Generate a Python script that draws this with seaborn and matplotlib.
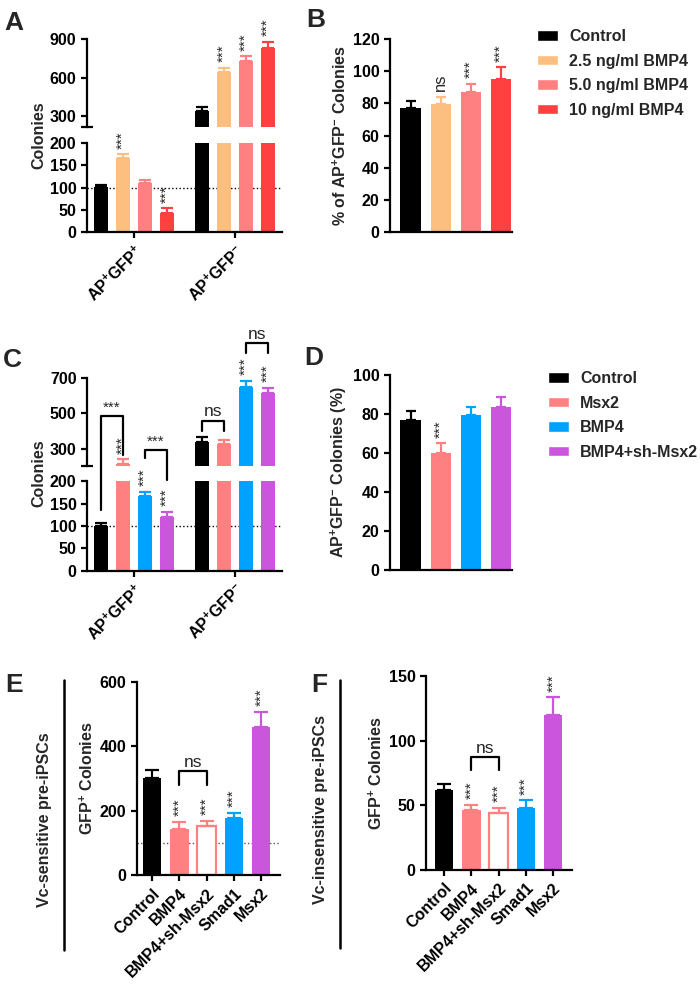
import numpy as np
import pandas as pd
import matplotlib
matplotlib.use("Agg")
import matplotlib.pyplot as plt
from matplotlib.lines import Line2D
from matplotlib.patches import Patch
import seaborn as sns

# === Data ===
black, orange, pink, red = "#000000", "#FDBF7F", "#FF8080", "#FF4040"
blue, purple = "#00A2FF", "#CC55DD"

ab_groups = ["AP$^{+}$GFP$^{+}$", "AP$^{+}$GFP$^{-}$"]

a_treat = ["Control", "2.5 ng/ml BMP4", "5.0 ng/ml BMP4", "10 ng/ml BMP4"]
a_colors = [black, orange, pink, red]
a_pos = [101, 167, 109, 43]
a_pos_err = [5, 8, 7, 10]
a_neg = [338, 644, 730, 832]
a_neg_err = [30, 30, 37, 47]
a_marks = ["", "***", "", "***", "", "***", "***", "***"]

b_vals = [77, 79.5, 87, 95]
b_err = [4.5, 4.5, 5, 7.5]
b_marks = ["", "ns", "***", "***"]

c_treat = ["Control", "Msx2", "BMP4", "BMP4+sh-Msx2"]
c_colors = [black, pink, blue, purple]
c_pos = [101, 215, 167, 120]
c_pos_err = [6, 26, 9, 12]
c_neg = [341, 326, 645, 615]
c_neg_err = [28, 24, 38, 28]
c_marks = ["", "***", "***", "***", "", "", "***", "***"]
# bar i, bar j, leg i bottom, leg j bottom, top, text
c_brackets = [(0, 1, 136, 266, 485, "***"),
              (2, 3, 250, 203, 295, "***"),
              (4, 5, 402, 402, 458, "ns"),
              (6, 7, 836, 836, 892, "ns")]

d_vals = [77, 60, 79.5, 83.5]
d_err = [4.5, 5, 4, 5]
d_marks = ["", "***", "", ""]

ef_labels = ["Control", "BMP4", "BMP4+sh-Msx2", "Smad1", "Msx2"]
ef_colors = [black, pink, pink, blue, purple]
e_vals = [301, 144, 153, 177, 460]
e_err = [25, 22, 16, 17, 47]
f_vals = [61.5, 46.5, 44, 48, 120]
f_err = [5, 4, 4, 6, 13.5]
ef_marks = ["", "***", "***", "***", "***"]
e_bracket = (1, 2, 280, 323, "ns")
f_bracket = (1, 2, 77, 87, "ns")

# === Style ===
FS = 11.5
sns.set_style("ticks")
plt.rcParams["font.family"] = ["Liberation Sans", "DejaVu Sans"]
plt.rcParams.update({
    "font.weight": "bold", "axes.labelweight": "bold", "font.size": FS,
    "axes.labelsize": FS, "xtick.labelsize": FS, "ytick.labelsize": FS,
    "axes.linewidth": 1.6, "xtick.major.width": 1.6, "ytick.major.width": 1.6,
    "xtick.major.size": 4, "ytick.major.size": 4,
    "xtick.color": "black", "ytick.color": "black", "axes.edgecolor": "black",
    "mathtext.fontset": "custom", "mathtext.rm": "Liberation Sans:bold",
    "mathtext.default": "rm",
})

W, H = 700, 984
fig = plt.figure(figsize=(W / 100, H / 100), dpi=100)


def box(l, t, r, b):
    return [l / W, 1 - b / H, (r - l) / W, (b - t) / H]


def to_fig(ax, x, y):
    return fig.transFigure.inverted().transform(ax.transData.transform((x, y)))


def star(ax, x, y, text, fs=11):
    ax.annotate(text, (x, y), xytext=(0, 4), textcoords="offset points",
                rotation=90, ha="center", va="bottom", fontsize=fs,
                fontweight="normal", annotation_clip=False)


def err(ax, xs, vals, errs, colors, cap):
    for x, v, e, c in zip(xs, vals, errs, colors):
        ax.errorbar(x, v, yerr=[[0], [e]], fmt="none", ecolor=c,
                    elinewidth=1.6, capsize=cap, capthick=1.6)


def grouped_broken(rect_up, rect_lo, treat, colors, pos, pos_err, neg, neg_err,
                   up_lim, up_ticks, marks):
    df = pd.DataFrame({
        "group": np.repeat(ab_groups, len(treat)),
        "treatment": treat * 2,
        "value": pos + neg,
    })
    errs = pos_err + neg_err
    vals = pos + neg
    ax_up = fig.add_axes(rect_up)
    ax_lo = fig.add_axes(rect_lo)
    for ax in (ax_up, ax_lo):
        sns.barplot(data=df, x="group", y="value", hue="treatment",
                    order=ab_groups, hue_order=treat, palette=colors,
                    width=0.87, gap=0.36, saturation=1, linewidth=0,
                    errorbar=None, legend=False, ax=ax)
        ax.set_xlim(-0.465, 1.465)
        ax.set_xlabel("")
        ax.set_ylabel("")
    bars = sorted(ax_lo.patches, key=lambda p: p.get_x())
    xs = [p.get_x() + p.get_width() / 2 for p in bars]
    cols = colors * 2
    ax_lo.set_ylim(0, 200)
    ax_lo.set_yticks([0, 50, 100, 150, 200])
    ax_up.set_ylim(*up_lim)
    ax_up.set_yticks(up_ticks)
    ax_up.set_xticks([])
    sns.despine(ax=ax_lo)
    sns.despine(ax=ax_up, bottom=True)
    ax_up.plot([0], [0], marker="_", ms=9, mew=1.6, color="k",
               transform=ax_up.transAxes, clip_on=False)
    err(ax_lo, xs, vals, errs, cols, 4)
    err(ax_up, xs, vals, errs, cols, 4)
    ax_lo.axhline(100, ls=":", color="k", lw=1, zorder=0.5)
    for x, v, e, m in zip(xs, vals, errs, marks):
        if m:
            star(ax_up if v + e > up_lim[0] else ax_lo, x, v + e, m)
    plt.setp(ax_lo.get_xticklabels(), rotation=45, ha="right",
             rotation_mode="anchor")
    return ax_up, ax_lo, xs


def simple_bars(rect, labels, colors, vals, errs, ylim, yticks, xlim, width,
                cap, marks, ylabel):
    ax = fig.add_axes(rect)
    df = pd.DataFrame({"label": labels, "value": vals})
    sns.barplot(data=df, x="label", y="value", hue="label", order=labels,
                hue_order=labels, palette=colors, width=width, saturation=1,
                linewidth=0, errorbar=None, legend=False, ax=ax)
    bars = sorted(ax.patches, key=lambda p: p.get_x())
    xs = [p.get_x() + p.get_width() / 2 for p in bars]
    ax.set_xlim(*xlim)
    ax.set_ylim(*ylim)
    ax.set_yticks(yticks)
    ax.set_xlabel("")
    ax.set_ylabel(ylabel, labelpad=3)
    sns.despine(ax=ax)
    err(ax, xs, vals, errs, colors, cap)
    for x, v, e, m in zip(xs, vals, errs, marks):
        if m:
            star(ax, x, v + e, m, fs=11 if m == "***" else 12)
    return ax, xs, bars


def bracket(x1, x2, ax1, y1, ax2, y2, axt, yt, text):
    p1b, p1t = to_fig(ax1, x1, y1), to_fig(axt, x1, yt)
    p2t, p2b = to_fig(axt, x2, yt), to_fig(ax2, x2, y2)
    fig.add_artist(Line2D([p1b[0], p1t[0], p2t[0], p2b[0]],
                          [p1b[1], p1t[1], p2t[1], p2b[1]], color="k", lw=1.6,
                          transform=fig.transFigure))
    fig.text((p1t[0] + p2t[0]) / 2, p1t[1] + 1.5 / H, text, ha="center",
             va="bottom", fontsize=11 if text == "***" else 12.5,
             fontweight="normal")


def legend(treat, colors, x, top):
    fig.legend(handles=[Patch(facecolor=c, label=l) for c, l in zip(colors, treat)],
               loc="upper left", bbox_to_anchor=(x / W, 1 - top / H), frameon=False,
               fontsize=FS, handlelength=1.3, handleheight=0.65, handletextpad=0.7,
               labelspacing=0.6, borderpad=0, borderaxespad=0)


# === Panel A ===
grouped_broken(box(87, 39, 282, 127), box(87, 143, 282, 232), a_treat, a_colors,
               a_pos, a_pos_err, a_neg, a_neg_err, (215, 900), [300, 600, 900],
               a_marks)
fig.text(39 / W, 1 - 135 / H, "Colonies", rotation=90, ha="center", va="center")

# === Panel B ===
simple_bars(box(390, 39, 512, 232), a_treat, a_colors, b_vals, b_err, (0, 120),
            range(0, 121, 20), (-0.683, 3.38), 0.667, 3.5, b_marks,
            "% of AP$^{+}$GFP$^{-}$ Colonies")
plt.gca().set_xticks([])
legend(a_treat, a_colors, 537, 29)

# === Panel C ===
c_up, c_lo, c_xs = grouped_broken(box(87, 377.7, 282, 465.7), box(87, 481.3, 282, 570.7),
                                  c_treat, c_colors, c_pos, c_pos_err, c_neg, c_neg_err,
                                  (206, 700), [300, 500, 700], c_marks)
fig.text(39 / W, 1 - 473 / H, "Colonies", rotation=90, ha="center", va="center")
for i, j, yi, yj, yt, txt in c_brackets:
    bracket(c_xs[i], c_xs[j], c_up if yi > 206 else c_lo, yi,
            c_up if yj > 206 else c_lo, yj, c_up, yt, txt)

# === Panel D ===
simple_bars(box(390, 375, 512, 570), c_treat, c_colors, d_vals, d_err, (0, 100),
            range(0, 101, 20), (-0.683, 3.38), 0.667, 3.5, d_marks,
            "AP$^{+}$GFP$^{-}$ Colonies (%)")
plt.gca().set_xticks([])
legend(c_treat, c_colors, 548, 371)

# === Panels E and F ===
for rect, vals, errs, ylim, yticks, xlim, brk, dotted in [
        (box(137, 681.7, 280, 875.3), e_vals, e_err, (0, 600), [0, 200, 400, 600],
         (-0.55, 4.69), e_bracket, True),
        (box(426, 676, 572, 870), f_vals, f_err, (0, 150), [0, 50, 100, 150],
         (-0.66, 4.69), f_bracket, False)]:
    ax, xs, bars = simple_bars(rect, ef_labels, ef_colors, vals, errs, ylim, yticks,
                               xlim, 0.68, 5, ef_marks, "GFP$^{+}$ Colonies")
    bars[2].set_facecolor("white")
    bars[2].set_edgecolor(pink)
    bars[2].set_linewidth(1.6)
    if dotted:
        ax.axhline(100, ls=":", color="#555555", lw=1, zorder=0.5)
    plt.setp(ax.get_xticklabels(), rotation=45, ha="right", rotation_mode="anchor")
    i, j, yl, yt, txt = brk
    bracket(xs[i], xs[j], ax, yl, ax, yl, ax, yt, txt)

fig.text(45 / W, 1 - 820 / H, "Vc-sensitive pre-iPSCs", rotation=90,
         ha="center", va="center")
fig.text(320 / W, 1 - 810 / H, "Vc-insensitive pre-iPSCs", rotation=90,
         ha="center", va="center")
fig.add_artist(Line2D([64 / W, 64 / W], [1 - 680 / H, 1 - 950 / H], lw=1.8, color="k"))
fig.add_artist(Line2D([340 / W, 340 / W], [1 - 680 / H, 1 - 948 / H], lw=1.8, color="k"))

# === Panel letters ===
for letter, x, y in [("A", 14, 30), ("B", 316, 27), ("C", 12, 367), ("D", 314, 365),
                     ("E", 14, 692), ("F", 319, 692)]:
    fig.text(x / W, 1 - y / H, letter, fontsize=19, fontweight="bold",
             ha="center", va="baseline")

fig.savefig("out.png", dpi=100)
